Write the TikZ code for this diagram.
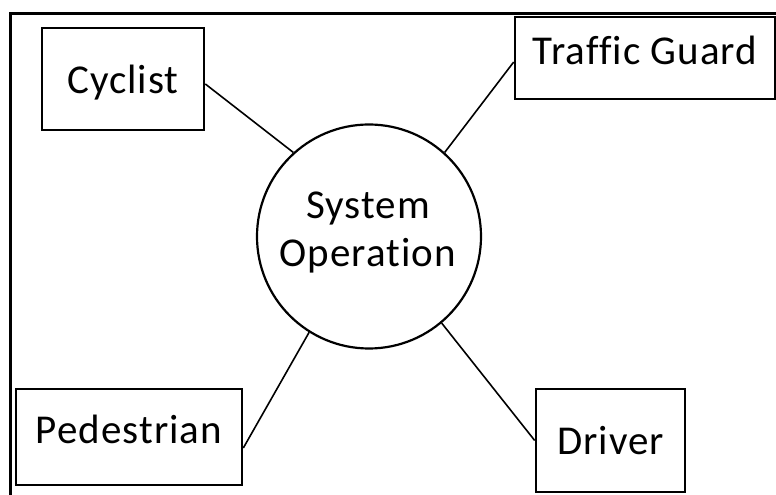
\documentclass[tikz,border=0pt]{standalone}
\usepackage{fontspec}
\setmainfont{Carlito}[Ligatures=NoCommon,LetterSpace=2.5]
\begin{document}
\begin{tikzpicture}[x=1pt,y=1pt,
  lbl/.style={font=\fontsize{41}{49}\selectfont, inner sep=0pt},
  actor/.style={draw, line width=2.6pt, lbl},
  link/.style={line width=1.6pt}]
\useasboundingbox (0,0) rectangle (776,495);
\clip (0,0) rectangle (776,495);
\fill[white] (0,0) rectangle (776,495);
% outer frame
\draw[line width=3pt] (10,-20) -- (10,481) -- (800,481);
% nodes
\node[actor, minimum width=162pt, minimum height=102pt, text depth=0pt] (cyc) at (123,416) {Cyclist};
\node[actor, minimum width=260pt, minimum height=82pt, text depth=16pt] (tg) at (645,437) {Traffic Guard};
\node[actor, minimum width=226pt, minimum height=96pt, text depth=16pt] (ped) at (129,58) {Pedestrian};
\node[actor, minimum width=149pt, minimum height=103pt] (drv) at (610.5,54.5) {Driver};
\node[draw, circle, line width=2.2pt, minimum size=224pt, inner sep=0pt] (sys) at (369,258.5) {};
\node[lbl, align=center] (syst) at (368,262) {System\\[-1pt]Operation};
% connectors
\draw[link] ([yshift=-5pt]cyc.east) -- (sys.132);
\draw[link] ([yshift=-4pt]tg.west) -- (sys.48);
\draw[link] ([yshift=-11pt]ped.east) -- (sys.238);
\draw[link] (drv.west) -- (sys.310);
\end{tikzpicture}
\end{document}
